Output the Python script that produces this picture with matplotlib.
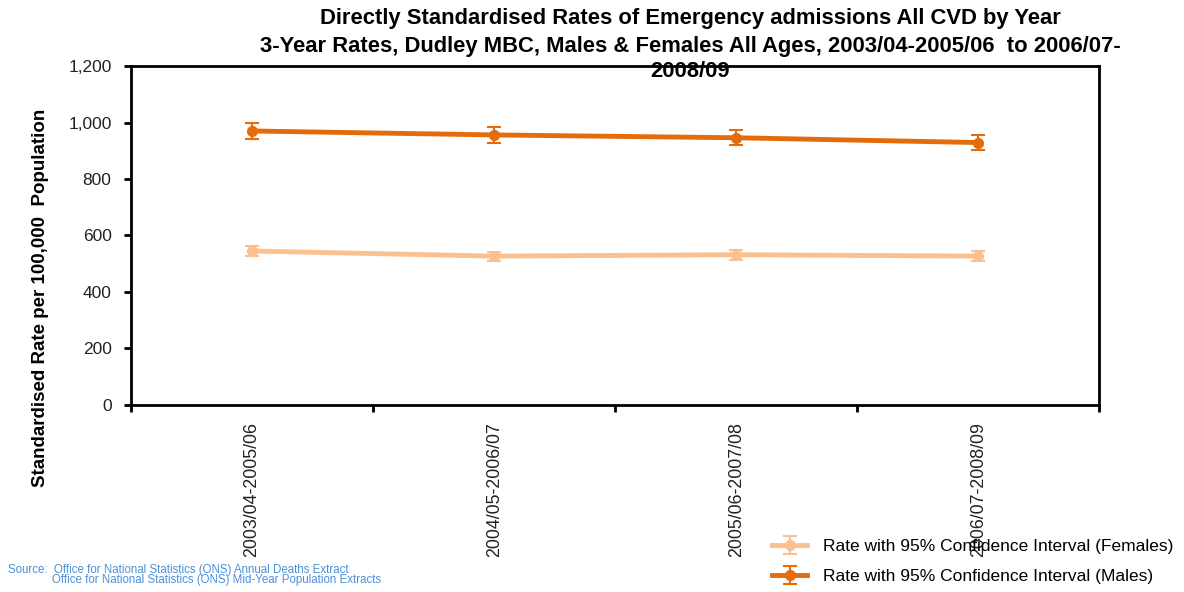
import matplotlib
matplotlib.use("Agg")
import matplotlib.pyplot as plt
import numpy as np

plt.rcParams['font.family'] = ['Liberation Sans', 'DejaVu Sans']

categories = ["2003/04-2005/06", "2004/05-2006/07", "2005/06-2007/08", "2006/07-2008/09"]
females = [545, 527, 532, 527]
females_ci = [18, 16, 17, 17]
males = [970, 956, 946, 929]
males_ci = [27, 27, 27, 27]
y_ticks = [0, 200, 400, 600, 800, 1000, 1200]

col_f = "#FAC090"
col_m = "#E46C0A"

fig = plt.figure(figsize=(11.84, 5.92), dpi=100)
ax = fig.add_axes([0.1106, 0.3159, 0.818, 0.5726])

x = np.arange(len(categories)) + 0.5
ef = ax.errorbar(x, females, yerr=females_ci, color=col_f, lw=3.5, marker='o', ms=7,
                 capsize=5, elinewidth=1.5, capthick=1.5,
                 label="Rate with 95% Confidence Interval (Females)")
em = ax.errorbar(x, males, yerr=males_ci, color=col_m, lw=3.5, marker='o', ms=7,
                 capsize=5, elinewidth=1.5, capthick=1.5,
                 label="Rate with 95% Confidence Interval (Males)")

ax.set_xlim(0, len(categories))
ax.set_ylim(0, 1200)
ax.set_yticks(y_ticks)
ax.set_yticklabels([f"{v:,}" for v in y_ticks], fontsize=12.5, color='#222222')
ax.set_xticks(np.arange(len(categories) + 1))
ax.set_xticklabels([])
ax.set_xticks(x, minor=True)
ax.set_xticklabels(categories, minor=True, rotation=90, fontsize=12.8, color='#222222')
ax.tick_params(axis='x', which='minor', length=0, pad=12)
ax.tick_params(axis='x', which='major', length=5, width=2, direction='out')
ax.tick_params(axis='y', length=5, width=2, direction='out', pad=9)
for s in ax.spines.values():
    s.set_linewidth(2)

ax.set_ylabel("Standardised Rate per 100,000  Population", fontsize=13.5, fontweight='bold')
ax.yaxis.set_label_coords(-0.085, 0.315)

title_lines = ["Directly Standardised Rates of Emergency admissions All CVD by Year",
               "3-Year Rates, Dudley MBC, Males & Females All Ages, 2003/04-2005/06  to 2006/07-",
               "2008/09"]
title_y = [0.968, 0.922, 0.880]
for t, yy in zip(title_lines, title_y):
    fig.text(0.583, yy, t, ha='center', va='center', fontsize=15.8, fontweight='bold')

leg = fig.legend(handles=[ef, em], loc='lower right', bbox_to_anchor=(1.004, -0.013),
                 frameon=False, fontsize=12.5, labelspacing=0.85, handlelength=2.0,
                 handletextpad=0.9)

fig.text(0.007, 0.038, "Source:  Office for National Statistics (ONS) Annual Deaths Extract",
         fontsize=8.3, color='#4A90D9', va='center')
fig.text(0.044, 0.021, "Office for National Statistics (ONS) Mid-Year Population Extracts",
         fontsize=8.3, color='#4A90D9', va='center')

fig.savefig("out.png", dpi=100)
